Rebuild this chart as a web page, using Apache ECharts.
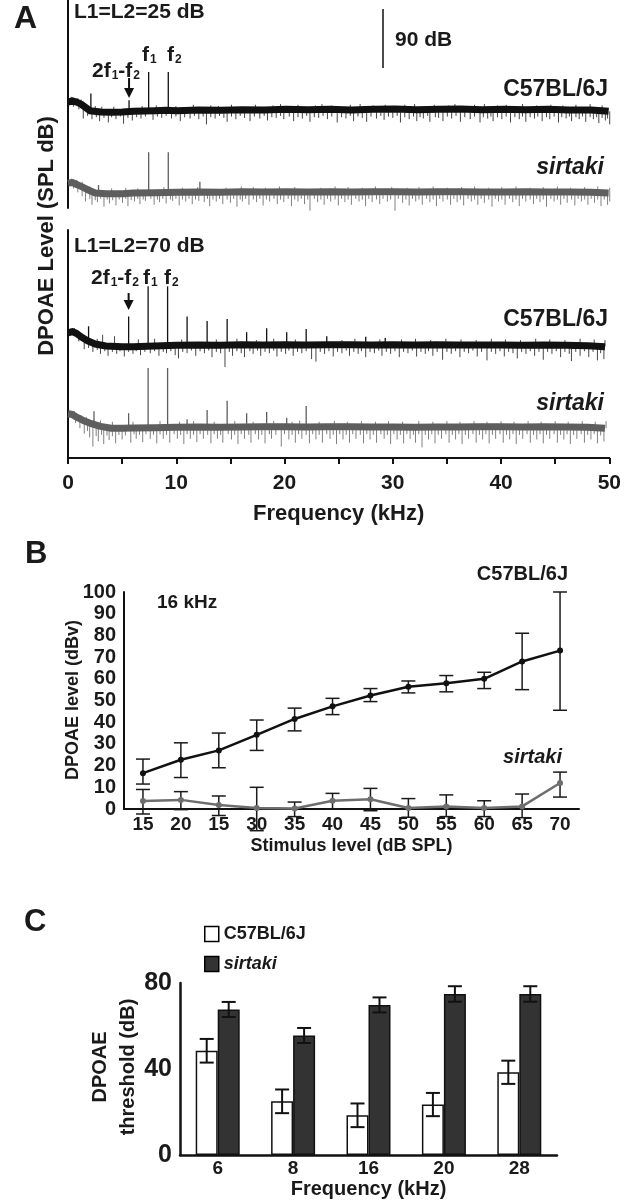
<!DOCTYPE html>
<html><head><meta charset="utf-8">
<script src="https://cdn.jsdelivr.net/npm/echarts/dist/echarts.min.js"></script>
<style>html,body{margin:0;padding:0;background:#fff}#c{width:624px;height:1200px}</style>
</head><body><div id="c"></div>
<script>
// ================= DATA =================
// ---- Panel A : DPOAE spectra (frequency kHz, level dB) ----
const freqTickLabels = [0, 10, 20, 30, 40, 50];

// L1=L2=25 dB, C57BL/6J
const c57_25_floor = [[0,-21],[0.4,-19],[0.8,-21],[1.2,-24],[1.6,-29],[2.0,-34],[3,-36],[4,-36.5],[5,-36],[6,-35],[7,-34.5],[8,-34],[9,-33.5],[10,-34],[12,-33],[14,-33.5],[16,-32.5],[18,-33],[20,-32],[22,-32.5],[24,-32],[26,-33],[28,-32],[30,-31.5],[32,-32.5],[34,-32],[36,-31.5],[38,-32.5],[40,-32],[42,-32.5],[44,-32],[46,-33],[48,-33],[49.6,-35]];
const c57_25_tones = [[2.1,-8],[5.6,-18],[7.4,25],[9.2,25]];
const c57_25_noise = [[0.5,-28],[1.0,-32],[1.4,-46],[1.8,-42],[2.2,-47],[2.6,-44],[2.9,-50],[3.3,-45],[3.7,-52],[4.0,-44],[4.4,-47],[4.8,-43],[5.1,-54],[5.5,-45],[5.9,-49],[6.3,-44],[6.7,-46],[7.1,-43],[7.8,-48],[8.2,-43],[8.6,-45],[9.0,-42],[9.5,-46],[9.9,-43],[10.3,-50],[10.7,-44],[11.2,-46],[11.6,-42],[12.0,-47],[12.4,-43],[12.7,-55],[13.1,-44],[13.5,-46],[13.9,-42],[14.3,-45],[14.6,-51],[15.0,-43],[15.4,-47],[15.8,-42],[16.2,-45],[16.7,-50],[17.1,-43],[17.6,-46],[18.0,-42],[18.3,-49],[18.7,-44],[19.1,-45],[19.5,-42],[19.8,-47],[20.3,-43],[20.7,-50],[21.1,-44],[21.5,-46],[21.9,-42],[22.2,-51],[22.6,-44],[23.0,-45],[23.4,-42],[23.8,-47],[24.2,-43],[24.7,-52],[25.1,-44],[25.5,-46],[25.9,-42],[26.2,-50],[26.6,-43],[27.0,-45],[27.4,-51],[27.8,-43],[28.3,-46],[28.7,-42],[29.0,-48],[29.4,-43],[29.8,-45],[30.2,-42],[30.5,-52],[30.9,-44],[31.3,-47],[31.7,-43],[32.0,-50],[32.3,-44],[32.6,-46],[33.0,-42],[33.2,-51],[33.7,-44],[34.0,-45],[34.4,-50],[34.8,-43],[35.2,-46],[35.6,-42],[36.0,-51],[36.4,-44],[36.9,-47],[37.3,-43],[37.8,-52],[38.1,-44],[38.5,-46],[38.8,-43],[39.0,-50],[39.4,-44],[39.8,-47],[40.2,-43],[40.6,-52],[41.0,-44],[41.4,-47],[41.7,-43],[42.0,-51],[42.4,-44],[42.8,-46],[43.1,-43],[43.5,-50],[43.9,-44],[44.2,-47],[44.6,-43],[45.0,-52],[45.3,-44],[45.7,-46],[46.0,-43],[46.2,-50],[46.6,-44],[46.9,-47],[47.2,-43],[47.5,-51],[47.9,-44],[48.2,-47],[48.5,-44],[48.7,-53],[49.0,-45],[49.3,-49],[49.5,-46],[49.7,-55],
  [0.3,-13],[0.9,-15],[1.2,-17],[2.5,-27],[3.1,-28],[4.2,-28],[6.8,-27],[8.1,-26],[9.9,-27],[11.5,-25],[13.1,-26],[13.8,-27],[15.0,-25],[17.2,-25],[18.8,-26],[19.5,-24],[21.1,-25],[22.7,-26],[23.3,-24],[24.2,-26],[25.9,-25],[26.8,-24],[28.0,-26],[29.1,-25],[30.9,-25],[31.8,-24],[33.6,-25],[34.9,-26],[35.5,-24],[37.3,-25],[38.2,-24],[39.4,-26],[40.2,-25],[41.7,-24],[43.0,-26],[44.3,-25],[45.4,-26],[46.6,-25],[47.9,-24],[49.0,-26]];

// L1=L2=25 dB, sirtaki
const sir_25_floor = [[0,-22],[0.4,-21],[0.8,-24],[1.2,-27],[1.8,-32],[2.5,-37],[3.5,-38],[5,-38],[6,-37],[8,-36.5],[10,-36],[12,-35.5],[14,-36],[16,-35],[18,-35.5],[20,-35],[22,-35.5],[24,-35],[26,-35.5],[28,-35],[30,-35],[32,-35.5],[34,-35],[36,-35],[38,-35.5],[40,-35.5],[42,-35],[44,-35.5],[46,-35.5],[48,-36],[49.6,-37]];
const sir_25_tones = [[2.8,-25],[7.4,25],[9.2,25],[12.1,-20]];
const sir_25_noise = [[0.5,-30],[0.9,-36],[1.3,-42],[1.6,-50],[2.0,-46],[2.2,-55],[2.5,-48],[2.7,-51],[3.0,-46],[3.3,-58],[3.6,-47],[3.8,-53],[4.1,-48],[4.4,-56],[4.7,-47],[5.0,-52],[5.3,-46],[5.5,-57],[5.8,-48],[6.1,-50],[6.4,-46],[6.6,-54],[6.9,-47],[7.1,-49],[7.6,-46],[7.9,-55],[8.2,-47],[8.4,-51],[8.7,-46],[9.0,-53],[9.4,-47],[9.6,-49],[9.9,-46],[10.2,-56],[10.5,-47],[10.8,-50],[11.1,-46],[11.4,-54],[11.7,-47],[12.0,-49],[12.5,-51],[12.8,-46],[13.0,-57],[13.3,-47],[13.6,-50],[13.9,-46],[14.2,-54],[14.6,-47],[14.9,-52],[15.2,-46],[15.5,-58],[15.8,-47],[16.0,-50],[16.3,-46],[16.6,-55],[17.0,-47],[17.3,-51],[17.6,-46],[17.9,-56],[18.2,-47],[18.5,-50],[18.9,-46],[19.2,-54],[19.5,-47],[19.8,-51],[20.2,-46],[20.5,-57],[20.8,-47],[21.1,-50],[21.4,-46],[21.7,-54],[22.0,-47],[22.2,-64],[22.6,-46],[22.9,-51],[23.2,-47],[23.5,-55],[23.8,-46],[24.1,-50],[24.5,-47],[24.8,-56],[25.1,-46],[25.4,-51],[25.7,-47],[26.0,-55],[26.4,-46],[26.7,-50],[27.0,-47],[27.3,-57],[27.6,-46],[27.9,-51],[28.3,-47],[28.6,-54],[28.9,-46],[29.3,-50],[29.6,-47],[30.0,-64],[30.3,-46],[30.7,-52],[31.0,-47],[31.3,-56],[31.6,-46],[31.9,-50],[32.2,-47],[32.5,-55],[32.9,-46],[33.2,-51],[33.5,-47],[33.8,-57],[34.1,-46],[34.4,-50],[34.8,-47],[35.1,-55],[35.4,-46],[35.7,-51],[36.0,-47],[36.3,-56],[36.7,-46],[37.0,-50],[37.3,-47],[37.6,-55],[37.9,-46],[38.2,-52],[38.6,-47],[38.9,-58],[39.2,-46],[39.5,-50],[39.8,-47],[40.1,-55],[40.5,-46],[40.8,-51],[41.1,-47],[41.4,-57],[41.7,-46],[42.0,-50],[42.4,-47],[42.7,-54],[43.0,-46],[43.3,-51],[43.6,-47],[43.9,-58],[44.3,-46],[44.6,-50],[44.9,-47],[45.2,-55],[45.5,-46],[45.8,-52],[46.2,-47],[46.5,-56],[46.8,-46],[47.1,-50],[47.4,-47],[47.7,-55],[48.0,-46],[48.3,-52],[48.6,-47],[48.9,-57],[49.2,-47],[49.5,-55],[49.7,-50],
  [0.3,-15],[0.8,-17],[1.3,-20],[2.0,-27],[4.0,-30],[5.3,-29],[6.4,-30],[8.8,-28],[10.5,-29],[11.9,-28],[14.5,-29],[15.9,-27],[17.0,-28],[18.1,-29],[19.4,-27],[20.8,-28],[23.2,-29],[24.5,-27],[25.7,-28],[27.0,-29],[28.2,-27],[29.7,-28],[31.1,-29],[32.2,-28],[33.5,-27],[34.8,-29],[36.1,-28],[37.3,-27],[38.6,-29],[39.8,-28],[41.1,-27],[42.4,-29],[43.6,-28],[44.9,-27],[46.1,-29],[47.4,-28],[48.6,-27],[49.7,-29]];

// L1=L2=70 dB, C57BL/6J
const c57_70_floor = [[0,-1],[0.4,1],[0.8,-2],[1.2,-7],[1.8,-13],[2.5,-18],[3.5,-21],[5,-22],[6,-22],[8,-21],[10,-20],[12,-19.5],[14,-20],[16,-19],[18,-19.5],[20,-19],[22,-19.5],[24,-19],[26,-19],[28,-19.5],[30,-19],[32,-19.5],[34,-19],[36,-19.5],[38,-19.5],[40,-19.5],[42,-20],[44,-19.5],[46,-20],[48,-20.5],[49.6,-22]];
const c57_70_tones = [[1.9,9],[5.6,24],[7.4,70],[9.2,70],[11.0,24],[12.85,17],[14.7,20],[16.5,0],[18.35,6],[20.2,0],[22.0,5],[23.9,-6],[27.5,-7],[29.3,-9]];
const c57_70_noise = [[1.0,-14],[1.5,-26],[1.9,-24],[2.3,-30],[2.7,-27],[3.0,-33],[3.4,-29],[3.7,-36],[4.1,-30],[4.5,-33],[4.8,-29],[5.2,-37],[5.6,-30],[6.0,-33],[6.3,-29],[6.7,-35],[7.1,-30],[7.6,-32],[8.0,-29],[8.4,-36],[8.8,-30],[9.1,-32],[9.5,-29],[9.9,-35],[10.2,-40],[10.6,-30],[11.0,-32],[11.4,-28],[11.8,-36],[12.2,-29],[12.6,-32],[13.0,-28],[13.3,-38],[13.7,-30],[14.1,-32],[14.5,-53],[14.9,-30],[15.2,-36],[15.6,-29],[16.0,-32],[16.3,-38],[16.8,-29],[17.1,-33],[17.5,-28],[17.8,-36],[18.2,-30],[18.6,-32],[19.0,-28],[19.3,-37],[19.7,-30],[20.1,-33],[20.4,-28],[20.8,-36],[21.2,-30],[21.6,-32],[22.0,-29],[22.5,-41],[22.9,-45],[23.3,-30],[23.7,-33],[24.1,-29],[24.5,-37],[24.9,-30],[25.3,-32],[25.7,-28],[26.0,-36],[26.4,-30],[26.8,-33],[27.1,-29],[27.5,-38],[27.9,-30],[28.3,-32],[28.7,-28],[29.0,-36],[29.4,-30],[29.8,-33],[30.2,-29],[30.6,-38],[31.0,-30],[31.4,-32],[31.8,-28],[32.2,-37],[32.6,-30],[33.0,-33],[33.3,-29],[33.7,-36],[34.1,-30],[34.6,-42],[35.0,-30],[35.4,-33],[35.8,-29],[36.2,-38],[36.6,-30],[37.0,-32],[37.4,-28],[37.8,-37],[38.2,-30],[38.7,-43],[39.1,-30],[39.5,-33],[39.9,-29],[40.3,-37],[40.7,-30],[41.1,-32],[41.5,-40],[41.9,-30],[42.3,-33],[42.7,-29],[43.1,-36],[43.5,-30],[43.9,-42],[44.3,-30],[44.7,-33],[45.1,-29],[45.5,-38],[45.9,-30],[46.3,-33],[46.5,-44],[46.9,-30],[47.3,-36],[47.7,-29],[48.1,-38],[48.5,-30],[48.9,-43],[49.2,-32],[49.5,-41],
  [0.2,5],[0.6,6],[1.3,-3],[2.7,-10],[3.2,-4],[4.3,-6],[6.5,-11],[8.0,-10],[10.5,-11],[13.7,-11],[15.6,-10],[17.4,-12],[19.0,-10],[21.0,-11],[25.3,-12],[26.5,-10],[28.8,-11],[30.8,-11],[32.1,-10],[33.5,-12],[34.9,-10],[36.3,-11],[37.7,-12],[39.1,-10],[40.4,-11],[41.8,-12],[43.2,-10],[44.5,-11],[45.9,-12],[47.3,-10],[48.6,-11],[49.6,-12]];

// L1=L2=70 dB, sirtaki
const sir_70_floor = [[0,0],[0.4,-1],[0.8,-5],[1.4,-10],[2,-14],[3,-19],[4,-22],[5,-22],[6,-21.5],[8,-21],[10,-20.5],[12,-20],[14,-20.5],[16,-20],[18,-19.5],[20,-19.5],[22,-20],[24,-19.5],[26,-19.5],[28,-20],[30,-20],[32,-20.5],[34,-20],[36,-20],[38,-19.5],[40,-19.5],[42,-20],[44,-19.5],[46,-20],[48,-20.5],[49.6,-22]];
const sir_70_tones = [[2.4,4],[5.6,1],[7.4,70],[9.2,70],[11.0,-8],[12.85,6],[14.7,20],[16.5,1],[18.35,3],[20.2,-6],[22.0,12]];
const sir_70_noise = [[0.7,-14],[1.1,-22],[1.5,-30],[1.8,-26],[2.0,-36],[2.3,-50],[2.6,-34],[2.8,-42],[3.1,-32],[3.3,-46],[3.6,-33],[3.8,-40],[4.1,-34],[4.4,-45],[4.7,-32],[5.0,-39],[5.3,-33],[5.8,-44],[6.1,-31],[6.3,-38],[6.6,-32],[6.9,-43],[7.2,-31],[7.6,-38],[7.9,-32],[8.2,-45],[8.5,-31],[8.8,-38],[9.1,-32],[9.4,-44],[9.8,-31],[10.1,-38],[10.4,-32],[10.7,-46],[11.0,-31],[11.3,-38],[11.6,-32],[11.9,-43],[12.2,-31],[12.5,-38],[12.9,-32],[13.2,-45],[13.5,-31],[13.8,-38],[14.1,-32],[14.3,-44],[14.8,-31],[15.1,-39],[15.4,-32],[15.7,-46],[16.0,-31],[16.3,-38],[16.7,-32],[16.9,-44],[17.3,-31],[17.6,-39],[17.9,-32],[18.2,-45],[18.6,-31],[18.8,-38],[19.2,-32],[19.7,-50],[20.0,-31],[20.4,-39],[20.7,-32],[21.0,-44],[21.3,-31],[21.6,-38],[22.0,-32],[22.3,-45],[22.6,-31],[22.9,-39],[23.2,-32],[23.5,-44],[23.9,-31],[24.2,-38],[24.5,-32],[24.8,-46],[25.1,-31],[25.4,-39],[25.7,-32],[26.0,-44],[26.3,-31],[26.6,-38],[27.0,-32],[27.3,-45],[27.6,-31],[27.9,-39],[28.2,-32],[28.5,-44],[28.9,-31],[29.2,-38],[29.5,-32],[29.8,-46],[30.1,-31],[30.4,-39],[30.7,-32],[31.0,-45],[31.3,-31],[31.6,-38],[31.9,-32],[32.1,-44],[32.4,-31],[32.7,-51],[33.0,-32],[33.3,-39],[33.6,-31],[33.9,-45],[34.2,-32],[34.5,-38],[34.9,-31],[35.2,-44],[35.5,-32],[35.8,-39],[36.1,-31],[36.4,-46],[36.7,-32],[37.0,-38],[37.4,-31],[37.7,-44],[38.0,-32],[38.3,-39],[38.6,-31],[38.9,-45],[39.2,-32],[39.5,-38],[39.9,-31],[40.2,-44],[40.5,-32],[40.8,-39],[41.1,-31],[41.4,-46],[41.7,-32],[42.0,-38],[42.4,-31],[42.7,-44],[43.0,-32],[43.3,-39],[43.6,-31],[43.9,-45],[44.2,-32],[44.5,-38],[44.9,-31],[45.2,-44],[45.5,-32],[45.8,-39],[46.1,-31],[46.4,-46],[46.7,-32],[47.0,-38],[47.4,-31],[47.7,-44],[48.0,-32],[48.3,-39],[48.6,-31],[48.9,-45],[49.2,-33],[49.5,-42],
  [0.2,6],[0.6,4],[1.2,-2],[1.7,-5],[3.0,-10],[4.1,-12],[6.0,-12],[8.5,-11],[10.3,-12],[11.6,-11],[13.5,-12],[15.4,-11],[17.1,-12],[19.0,-11],[20.7,-12],[21.4,-10],[23.2,-12],[24.6,-11],[25.8,-12],[27.1,-11],[28.4,-12],[29.6,-11],[30.9,-12],[32.4,-11],[33.7,-12],[35.0,-11],[36.2,-12],[37.5,-11],[38.7,-12],[40.0,-11],[41.2,-12],[42.5,-11],[43.7,-12],[45.0,-11],[46.2,-12],[47.5,-11],[48.7,-12],[49.7,-11]];

const scaleBar90 = [[28.9, 31], [28.9, 121]];     // 90 dB scale bar (freq, dB)
const dpArrow25 = [5.6, 15.8, -14.7];             // freq, from dB, to dB
const dpArrow70 = [5.6, 59.8, 33.9];

// ---- Panel B : DPOAE level vs stimulus level (16 kHz) ----
const stimLabels = ['15','20','15','30','35','40','45','50','55','60','65','70'];
const c57Level   = [16.5, 22.7, 27, 34.2, 41.5, 47.3, 52.3, 56.3, 58, 60, 68, 73];
const c57LevelHi = [23, 30.5, 35, 41, 46.5, 51, 55.5, 59, 61.5, 63, 81, 100];
const c57LevelLo = [11.5, 14.5, 19, 27, 36, 43.5, 49.5, 53.5, 54, 55.5, 55, 45.5];
const sirLevel   = [3.7, 4.2, 1.8, 0.5, 0.2, 3.8, 4.5, 0.5, 1.2, 0.5, 1.2, 12];
const sirLevelHi = [9, 8, 6, 10, 3.2, 7.2, 9.5, 4.8, 6.5, 3.8, 6.9, 17];
const sirLevelLo = [-2.3, -0.3, -3, -10, -3.5, 0, -0.8, -3.8, -3.5, -3.5, -4, 5.5];
const levelTicks = [0,10,20,30,40,50,60,70,80,90,100];

// ---- Panel C : DPOAE threshold ----
const thrFreq      = ['6', '8', '16', '20', '28'];
const c57Thr       = [48.5, 25, 18.5, 23.5, 38.5];
const c57ThrErr    = [5.5, 5.5, 5.5, 5.4, 5.4];
const sirThr       = [67.7, 55.6, 69.8, 74.9, 74.9];
const sirThrErr    = [3.5, 3.5, 3.5, 3.6, 3.6];
const thrTickLabels = [0, 40, 80];

// ================= BUILD =================
const FONT = '"Liberation Sans", Arial, Helvetica, sans-serif';
const INK = '#1a1a1a';
const K = 59 / 90;               // px per dB in panel A (from the 90 dB bar)
function dbRange(top, h, anchorDb, anchorPx) {
  const max = anchorDb + (anchorPx - top) / K;
  return { min: max - h / K, max: max };
}
function floorAt(floor, f) {
  for (let i = 1; i < floor.length; i++) {
    if (f <= floor[i][0]) {
      const a = floor[i-1], b = floor[i];
      return a[1] + (b[1]-a[1]) * (f - a[0]) / (b[0]-a[0]);
    }
  }
  return floor[floor.length-1][1];
}
function spikes(xi, yi, floor, list, color, width, z) {
  return {
    type: 'custom', xAxisIndex: xi, yAxisIndex: yi, clip: false, silent: true, z: z,
    data: list.map(p => [p[0], p[1], floorAt(floor, p[0])]),
    renderItem: function (params, api) {
      const a = api.coord([api.value(0), api.value(2)]);
      const b = api.coord([api.value(0), api.value(1)]);
      return { type: 'line', shape: { x1: a[0], y1: a[1], x2: b[0], y2: b[1] },
               style: { stroke: color, lineWidth: width } };
    }
  };
}
function band(xi, yi, floor, color, width) {
  return { type: 'line', xAxisIndex: xi, yAxisIndex: yi, data: floor, showSymbol: false, symbol: 'none',
           silent: true, z: 2, lineStyle: { color: color, width: width, join: 'round', cap: 'butt' } };
}
function arrow(xi, yi, a) {
  return {
    type: 'custom', xAxisIndex: xi, yAxisIndex: yi, clip: false, silent: true, z: 5,
    data: [a],
    renderItem: function (params, api) {
      const p = api.coord([api.value(0), api.value(1)]);
      const q = api.coord([api.value(0), api.value(2)]);
      return { type: 'group', children: [
        { type: 'line', shape: { x1: p[0], y1: p[1], x2: q[0], y2: q[1] - 8 }, style: { stroke: '#111', lineWidth: 2 } },
        { type: 'polygon', shape: { points: [[q[0]-5, q[1]-10], [q[0]+5, q[1]-10], [q[0], q[1]]] }, style: { fill: '#111' } }
      ]};
    }
  };
}
function errBars(xi, yi, lo, hi, color, half, dx, w) {
  return {
    type: 'custom', xAxisIndex: xi, yAxisIndex: yi, clip: false, silent: true, z: 6,
    data: lo.map((l, i) => [i, l, hi[i]]),
    renderItem: function (params, api) {
      const p = api.coord([api.value(0), api.value(1)]);
      const q = api.coord([api.value(0), api.value(2)]);
      const x = p[0] + dx;
      const st = { stroke: color, lineWidth: w };
      return { type: 'group', children: [
        { type: 'line', shape: { x1: x, y1: p[1], x2: x, y2: q[1] }, style: st },
        { type: 'line', shape: { x1: x-half, y1: p[1], x2: x+half, y2: p[1] }, style: st },
        { type: 'line', shape: { x1: x-half, y1: q[1], x2: x+half, y2: q[1] }, style: st }
      ]};
    }
  };
}
function txt(x, y, text, size, o) {
  o = o || {};
  return { type: 'text', x: x, y: y, rotation: o.rot || 0, z: 100, silent: true,
    style: { text: text, fill: INK, fontFamily: FONT, fontWeight: 'bold', fontStyle: o.italic ? 'italic' : 'normal',
             fontSize: size, align: o.align || 'left', verticalAlign: 'middle', lineHeight: o.lh || size * 1.2,
             rich: o.rich } };
}
const subRich = {
  n: { fontFamily: FONT, fontWeight: 'bold', fontSize: 21, lineHeight: 22, fill: INK },
  s: { fontFamily: FONT, fontWeight: 'bold', fontSize: 12, lineHeight: 12, verticalAlign: 'bottom', fill: INK, padding: [0, 0, 0, 1] }
};
const dpLabel = '{n|2f}{s|1}{n|-f}{s|2}';

const BLACK = '#111111', BLACK_HAIR = '#464646', GRAY = '#5e5e5e', GRAY_HAIR = '#808080';

const r1 = dbRange(0, 208, -33, 110);
const r2 = dbRange(0, 208, -35.5, 192);
const r3 = dbRange(230, 228, -19.5, 345);
const r4 = dbRange(230, 228, -20, 427);

const hideAxis = { axisLine: { show: false }, axisTick: { show: false }, axisLabel: { show: false }, splitLine: { show: false } };
const axisLn = w => ({ show: true, onZero: false, lineStyle: { color: '#111', width: w } });

const option = {
  animation: false,
  backgroundColor: '#fff',
  textStyle: { fontFamily: FONT },
  grid: [
    { left: 68, width: 545, top: 0, height: 208 },
    { left: 68, width: 545, top: 230, height: 228 },
    { left: 124, width: 455, top: 592, height: 217 },
    { left: 180, width: 377, top: 983, height: 176 }
  ],
  xAxis: [
    Object.assign({ gridIndex: 0, type: 'value', min: 0, max: 50 }, hideAxis),
    { gridIndex: 1, type: 'value', min: 0, max: 50, interval: 5,
      axisLine: axisLn(2), splitLine: { show: false },
      axisTick: { length: 6, lineStyle: { width: 2, color: '#111' } },
      axisLabel: { margin: 15, fontSize: 21, fontWeight: 'bold', color: INK, fontFamily: FONT,
                   formatter: v => freqTickLabels.indexOf(v) >= 0 ? String(v) : '' },
      name: 'Frequency (kHz)', nameLocation: 'middle', nameGap: 45,
      nameTextStyle: { fontSize: 22, fontWeight: 'bold', color: INK, fontFamily: FONT } },
    { gridIndex: 2, type: 'category', data: stimLabels, boundaryGap: true,
      axisLine: axisLn(2), axisTick: { alignWithLabel: true, length: 5, lineStyle: { width: 2, color: '#111' } },
      axisLabel: { margin: 6, fontSize: 19, fontWeight: 'bold', color: INK, fontFamily: FONT, interval: 0 },
      name: 'Stimulus level (dB SPL)', nameLocation: 'middle', nameGap: 28,
      nameTextStyle: { fontSize: 18, fontWeight: 'bold', color: INK, fontFamily: FONT } },
    { gridIndex: 3, type: 'category', data: thrFreq, boundaryGap: true,
      axisLine: axisLn(2.5), axisTick: { alignWithLabel: false, length: 6, lineStyle: { width: 2, color: '#111' } },
      axisLabel: { margin: 4, fontSize: 19, fontWeight: 'bold', color: INK, fontFamily: FONT, interval: 0 },
      name: 'Frequency (kHz)', nameLocation: 'middle', nameGap: 22,
      nameTextStyle: { fontSize: 20, fontWeight: 'bold', color: INK, fontFamily: FONT } }
  ],
  yAxis: [
    Object.assign({ gridIndex: 0, type: 'value' }, r1, hideAxis, { axisLine: axisLn(2) }),
    Object.assign({ gridIndex: 0, type: 'value', show: false }, r2),
    Object.assign({ gridIndex: 1, type: 'value' }, r3, hideAxis, { axisLine: axisLn(2) }),
    Object.assign({ gridIndex: 1, type: 'value', show: false }, r4),
    { gridIndex: 2, type: 'value', min: 0, max: 100, interval: 10,
      axisLine: axisLn(2), splitLine: { show: false },
      axisTick: { length: 6, lineStyle: { width: 2, color: '#111' } },
      axisLabel: { margin: 8, fontSize: 20, fontWeight: 'bold', color: INK, fontFamily: FONT,
                   formatter: v => levelTicks.indexOf(v) >= 0 ? String(v) : '' } },
    { gridIndex: 3, type: 'value', min: 0, max: 80, interval: 10,
      axisLine: axisLn(2.5), splitLine: { show: false },
      axisTick: { length: 7, lineStyle: { width: 2, color: '#111' } },
      axisLabel: { margin: 8, fontSize: 25, fontWeight: 'bold', color: INK, fontFamily: FONT,
                   formatter: v => thrTickLabels.indexOf(v) >= 0 ? String(v) : '' } }
  ],
  legend: {
    data: ['C57BL/6J', 'sirtaki'], orient: 'vertical', left: 199, top: 920, itemGap: 12,
    itemWidth: 14, itemHeight: 15, icon: 'rect', selectedMode: false,
    itemStyle: { borderColor: '#000', borderWidth: 1.5 },
    formatter: n => n === 'sirtaki' ? '{i|sirtaki}' : '{b|' + n + '}',
    textStyle: { rich: {
      b: { fontSize: 18, fontWeight: 'bold', color: INK, fontFamily: FONT },
      i: { fontSize: 18, fontWeight: 'bold', fontStyle: 'italic', color: INK, fontFamily: FONT } } }
  },
  series: [
    // --- Panel A top (25 dB)
    spikes(0, 0, c57_25_floor, c57_25_noise, BLACK_HAIR, 1, 1),
    band(0, 0, c57_25_floor, BLACK, 7),
    spikes(0, 0, c57_25_floor, c57_25_tones, BLACK, 1.3, 3),
    spikes(0, 1, sir_25_floor, sir_25_noise, GRAY_HAIR, 1, 1),
    band(0, 1, sir_25_floor, GRAY, 7),
    spikes(0, 1, sir_25_floor, sir_25_tones, GRAY, 1.3, 3),
    { type: 'line', xAxisIndex: 0, yAxisIndex: 0, data: scaleBar90, symbol: 'none', silent: true,
      lineStyle: { color: '#111', width: 1.5 } },
    arrow(0, 0, dpArrow25),
    // --- Panel A bottom (70 dB)
    spikes(1, 2, c57_70_floor, c57_70_noise, BLACK_HAIR, 1, 1),
    band(1, 2, c57_70_floor, BLACK, 7),
    spikes(1, 2, c57_70_floor, c57_70_tones, BLACK, 1.3, 3),
    spikes(1, 3, sir_70_floor, sir_70_noise, GRAY_HAIR, 1, 1),
    band(1, 3, sir_70_floor, GRAY, 7),
    spikes(1, 3, sir_70_floor, sir_70_tones, GRAY, 1.3, 3),
    arrow(1, 2, dpArrow70),
    // --- Panel B
    errBars(2, 4, c57LevelLo, c57LevelHi, '#1a1a1a', 7, 0, 1.5),
    errBars(2, 4, sirLevelLo, sirLevelHi, '#1a1a1a', 7, 0, 1.5),
    { type: 'line', xAxisIndex: 2, yAxisIndex: 4, data: c57Level, symbol: 'circle', symbolSize: 6,
      lineStyle: { color: '#111', width: 2.5 }, itemStyle: { color: '#111' }, z: 8, silent: true },
    { type: 'line', xAxisIndex: 2, yAxisIndex: 4, data: sirLevel, symbol: 'circle', symbolSize: 6,
      lineStyle: { color: '#6e6e6e', width: 2.5 }, itemStyle: { color: '#6e6e6e' }, z: 7, silent: true },
    // --- Panel C
    { name: 'C57BL/6J', type: 'bar', xAxisIndex: 3, yAxisIndex: 5, data: c57Thr, barWidth: 22, barGap: '0%',
      itemStyle: { color: '#ffffff', borderColor: '#111', borderWidth: 1.5 }, silent: true },
    { name: 'sirtaki', type: 'bar', xAxisIndex: 3, yAxisIndex: 5, data: sirThr, barWidth: 22, barGap: '0%',
      itemStyle: { color: '#333333', borderColor: '#111', borderWidth: 1.5 }, silent: true },
    errBars(3, 5, c57Thr.map((v, i) => v - c57ThrErr[i]), c57Thr.map((v, i) => v + c57ThrErr[i]), '#111', 7, -11, 2),
    errBars(3, 5, sirThr.map((v, i) => v - sirThrErr[i]), sirThr.map((v, i) => v + sirThrErr[i]), '#111', 7, 11, 2)
  ],
  graphic: [
    txt(14, 19, 'A', 32),
    txt(25, 554, 'B', 31),
    txt(24, 922, 'C', 31),
    // Panel A texts
    txt(74, 12, 'L1=L2=25 dB', 21),
    txt(395, 40, '90 dB', 21),
    txt(608, 90, 'C57BL/6J', 23, { align: 'right' }),
    txt(604, 168, 'sirtaki', 23, { align: 'right', italic: true }),
    txt(92, 71, dpLabel, 21, { rich: subRich }),
    txt(142, 55, '{n|f}{s|1}', 21, { rich: subRich }),
    txt(167, 55, '{n|f}{s|2}', 21, { rich: subRich }),
    txt(74, 246, 'L1=L2=70 dB', 21),
    txt(91, 278, dpLabel, 21, { rich: subRich }),
    txt(143, 278, '{n|f}{s|1}', 21, { rich: subRich }),
    txt(164, 278, '{n|f}{s|2}', 21, { rich: subRich }),
    txt(608, 320, 'C57BL/6J', 23, { align: 'right' }),
    txt(604, 404, 'sirtaki', 23, { align: 'right', italic: true }),
    txt(47, 236, 'DPOAE Level (SPL dB)', 22, { align: 'center', rot: Math.PI / 2 }),
    // Panel B texts
    txt(157, 603, '16 kHz', 19),
    txt(568, 574, 'C57BL/6J', 20, { align: 'right' }),
    txt(562, 757, 'sirtaki', 20, { align: 'right', italic: true }),
    txt(73, 700, 'DPOAE level (dBv)', 18, { align: 'center', rot: Math.PI / 2 }),
    // Panel C texts
    txt(114, 1067, 'DPOAE\nthreshold (dB)', 20, { align: 'center', rot: Math.PI / 2, lh: 28 })
  ]
};
const chart = echarts.init(document.getElementById('c'), null, { renderer: 'canvas', width: 624, height: 1200 });
chart.setOption(option);
</script></body></html>
